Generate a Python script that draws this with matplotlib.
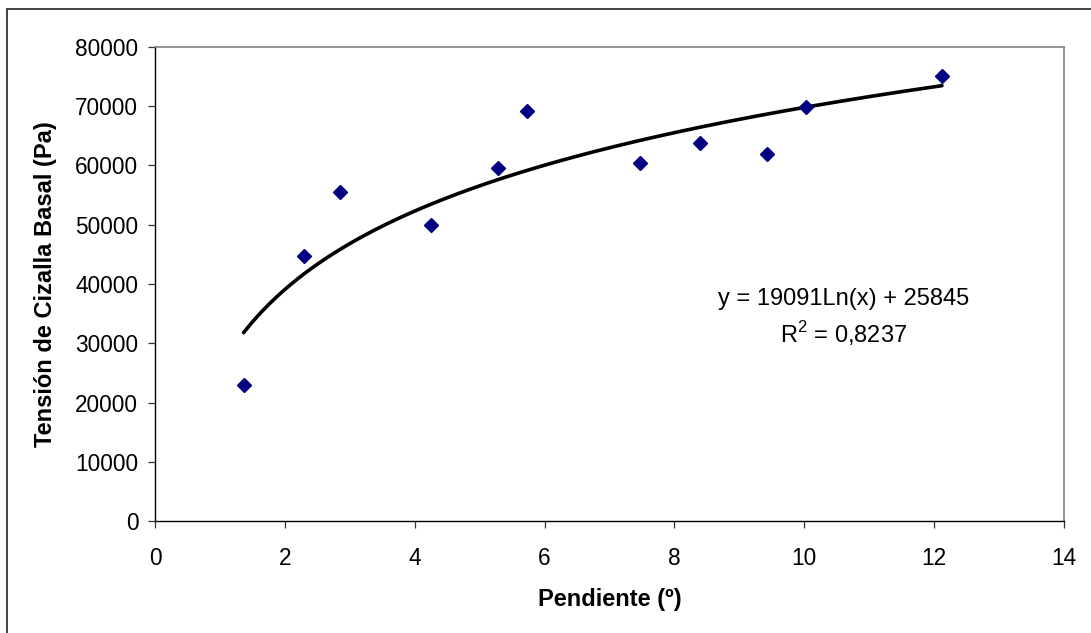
import numpy as np
import matplotlib
matplotlib.use("Agg")
import matplotlib.pyplot as plt
from matplotlib.patches import Rectangle

# Data
pendiente = [1.365, 2.29, 2.85, 4.245, 5.29, 5.735, 7.47, 8.39, 9.43, 10.02, 12.12]
tension = [23000, 44700, 55500, 50000, 59500, 69250, 60400, 63800, 61900, 69900, 75100]
fit_a = 19091
fit_b = 25845
eq_text = "y = 19091Ln(x) + 25845"
r2_text = "R$^2$ = 0,8237"
x_ticks = [0, 2, 4, 6, 8, 10, 12, 14]
y_ticks = [0, 10000, 20000, 30000, 40000, 50000, 60000, 70000, 80000]

plt.rcParams['font.family'] = ['Liberation Sans', 'DejaVu Sans']
plt.rcParams['mathtext.fontset'] = 'custom'
plt.rcParams['mathtext.rm'] = 'Liberation Sans'

W, H = 1091, 633
fig = plt.figure(figsize=(W / 100, H / 100), dpi=100)
ax = fig.add_axes([155 / W, 1 - 521 / H, (1064 - 155) / W, (521 - 47) / H])

# Outer chart border
fig.patches.append(Rectangle((7 / W, -0.1), 1.2, (633 - 9) / H + 0.1,
                             transform=fig.transFigure, fill=False,
                             edgecolor='#333333', linewidth=1.3))

# Trend line
xs = np.linspace(min(pendiente), max(pendiente), 300)
ax.plot(xs, fit_a * np.log(xs) + fit_b, color='black', linewidth=2.6,
        solid_capstyle='round', zorder=2)

# Scatter points
ax.plot(pendiente, tension, linestyle='none', marker='D', markersize=7,
        color='#000080', zorder=3)

ax.set_xlim(0, 14)
ax.set_ylim(0, 80000)
ax.set_xticks(x_ticks)
ax.set_yticks(y_ticks)
ax.set_xticklabels([str(v) for v in x_ticks])
ax.set_yticklabels([str(v) for v in y_ticks])

for s in ['left', 'bottom']:
    ax.spines[s].set_color('black')
    ax.spines[s].set_linewidth(1.0)
for s in ['top', 'right']:
    ax.spines[s].set_color('#808080')
    ax.spines[s].set_linewidth(1.2)

ax.tick_params(axis='both', direction='out', length=5, width=0.9,
               color='#333333', labelsize=16.3)
ax.tick_params(axis='x', pad=14)
ax.tick_params(axis='y', pad=7)

ax.set_xlabel("Pendiente (º)", fontsize=17, fontweight='bold', labelpad=13)
ax.set_ylabel("Tensión de Cizalla Basal (Pa)", fontsize=17, fontweight='bold',
              labelpad=13)

ax.text(10.6, 37400, eq_text, fontsize=17, ha='center', va='center')
ax.text(10.6, 31700, r2_text, fontsize=17, ha='center', va='center')

fig.savefig("out.png", dpi=100)
